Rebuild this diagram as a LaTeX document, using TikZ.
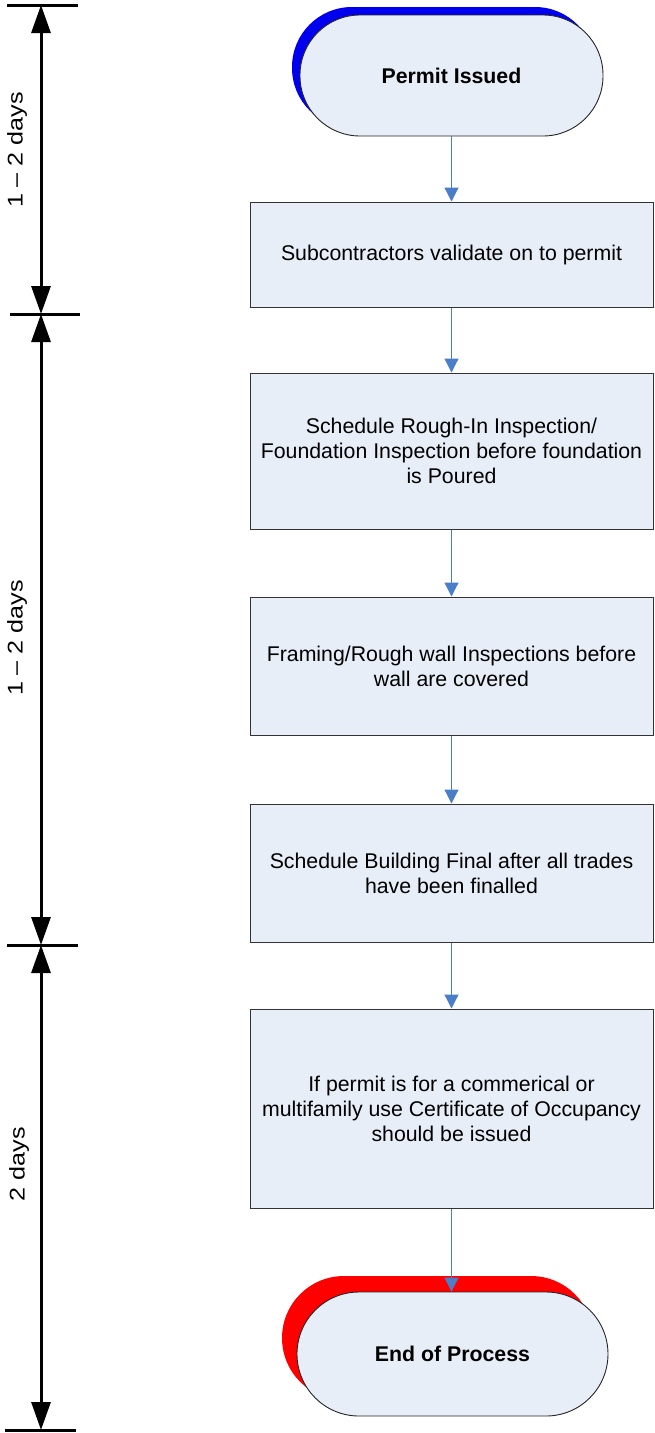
\documentclass[tikz,border=0pt]{standalone}
\usepackage{fontspec}
\setmainfont{Liberation Sans}
\usetikzlibrary{arrows.meta,shadows}

\definecolor{boxfill}{RGB}{232,238,248}
\definecolor{flowblue}{RGB}{74,126,200}
\definecolor{startblue}{RGB}{0,0,238}
\definecolor{endred}{RGB}{255,0,0}

\begin{document}
\begin{tikzpicture}[x=1pt,y=-1pt,
  every node/.style={font=\fontsize{21.3}{25}\selectfont},
  stepbox/.style={draw=black!80, line width=1pt, fill=boxfill, align=center,
    minimum width=403pt, inner sep=0pt},
  terminal/.style={draw=black!85, line width=0.9pt, fill=boxfill,
    font=\fontsize{21.3}{25}\selectfont\bfseries},
  flow/.style={draw=flowblue, line width=1.2pt, -{Triangle[width=14pt,length=14pt]}},
  span/.style={line width=3pt,
    {Triangle[width=19pt,length=28pt]}-{Triangle[width=19pt,length=28pt]}},
  tick/.style={line width=3pt},
  dimlabel/.style={rotate=90, inner sep=0pt}
]
\useasboundingbox (0,0) rectangle (654,1433);

% start and end terminals with offset coloured shadows
\node[terminal, minimum width=303pt, minimum height=121pt, rounded corners=60pt,
      general shadow={fill=startblue, draw=none, shadow xshift=-8pt, shadow yshift=8pt}]
  (start) at (451.5,75.5) {Permit Issued};

\node[terminal, minimum width=311pt, minimum height=124pt, rounded corners=62pt,
      general shadow={fill=endred, draw=none, shadow xshift=-15pt, shadow yshift=16pt}]
  (finish) at (452.5,1354) {End of Process};

% process steps
\node[stepbox, minimum height=105pt] (s1) at (451.5,254.5)
  {Subcontractors validate on to permit};
\node[stepbox, minimum height=156pt] (s2) at (451.5,451)
  {Schedule Rough-In Inspection/\\Foundation Inspection before foundation\\is Poured};
\node[stepbox, minimum height=138pt] (s3) at (451.5,666)
  {Framing/Rough wall Inspections before\\wall are covered};
\node[stepbox, minimum height=138pt] (s4) at (451.5,873)
  {Schedule Building Final after all trades\\have been finalled};
\node[stepbox, minimum height=199pt] (s5) at (451.5,1108.5)
  {If permit is for a commerical or\\multifamily use Certificate of Occupancy\\should be issued};

% flow connectors
\draw[flow] (start.south) -- (s1.north);
\draw[flow] (s1.south) -- (s2.north);
\draw[flow] (s2.south) -- (s3.north);
\draw[flow] (s3.south) -- (s4.north);
\draw[flow] (s4.south) -- (s5.north);
\draw[flow] (s5.south) -- (s5.south |- finish.north);

% duration scale on the left
\coordinate (d0) at (41,5);
\coordinate (d1) at (41,314);
\coordinate (d2) at (41,945);
\coordinate (d3) at (41,1430);

\draw[tick] (7,5) -- (78,5);
\draw[tick] (10,314) -- (80,314);
\draw[tick] (7,945) -- (78,945);
\draw[tick] (5,1430) -- (76,1430);

\draw[span] (d0) -- (d1);
\draw[span] (d1) -- (d2);
\draw[span] (d2) -- (d3);

\node[dimlabel] (lab1) at (17,150) {\scalebox{1.18}[1]{1 – 2 days}};
\node[dimlabel] (lab2) at (17,638) {\scalebox{1.18}[1]{1 – 2 days}};
\node[dimlabel] (lab3) at (19,1164) {\scalebox{1.18}[1]{2 days}};
\end{tikzpicture}
\end{document}
